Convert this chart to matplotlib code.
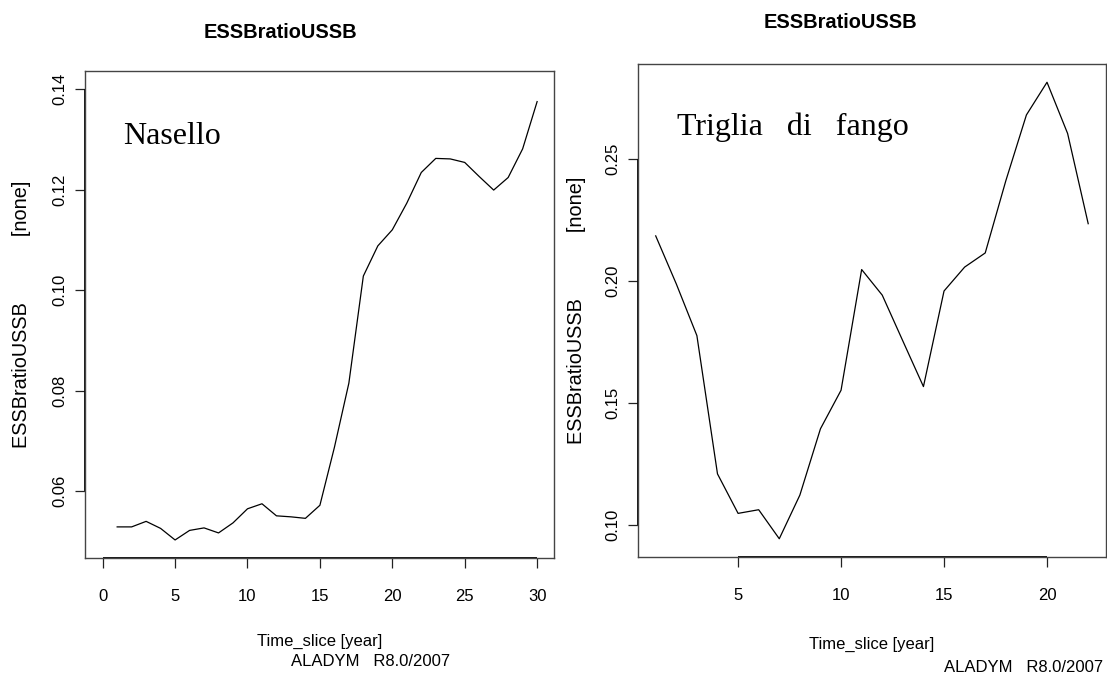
import matplotlib
matplotlib.use("Agg")
import matplotlib.pyplot as plt
import numpy as np

# ---- data ----
nasello_x = list(range(1, 31))
nasello_y = [0.0529, 0.0529, 0.0540, 0.0526, 0.0503, 0.0522, 0.0527, 0.0517, 0.0537, 0.0565,
             0.0575, 0.0551, 0.0549, 0.0546, 0.0572, 0.0687, 0.0815, 0.1028, 0.1088, 0.1120,
             0.1173, 0.1234, 0.1262, 0.1261, 0.1254, 0.1226, 0.1199, 0.1224, 0.1281, 0.1375]
triglia_x = list(range(1, 23))
triglia_y = [0.2184, 0.1987, 0.1775, 0.1208, 0.1046, 0.1061, 0.0942, 0.1121, 0.1393, 0.1551,
             0.2046, 0.1941, 0.1753, 0.1566, 0.1958, 0.2056, 0.2114, 0.2410, 0.2680, 0.2814,
             0.2604, 0.2234]
left_xticks = [0, 5, 10, 15, 20, 25, 30]
left_yticks = [0.06, 0.08, 0.10, 0.12, 0.14]
right_xticks = [5, 10, 15, 20]
right_yticks = [0.10, 0.15, 0.20, 0.25]
title_text = "ESSBratioUSSB"
ylabel_text = "ESSBratioUSSB            [none]"
xlabel_text = "Time_slice [year]"
footer_text = "ALADYM   R8.0/2007"
left_species = "Nasello"
right_species = "Triglia   di   fango"

plt.rcParams['font.family'] = ['Liberation Sans', 'DejaVu Sans']

W, H = 1107, 674
fig = plt.figure(figsize=(W / 100, H / 100), dpi=100)


def px_axes(x0, x1, ytop, ybot):
    return fig.add_axes([x0 / W, 1 - ybot / H, (x1 - x0) / W, (ybot - ytop) / H])


def style(ax, xticks, yticks, yfmt, xlab_y):
    ax.margins(x=0.04, y=0.04)
    ax.set_xticks(xticks)
    ax.set_yticks(yticks)
    ax.set_yticklabels([yfmt.format(v) for v in yticks], rotation=90, va='center')
    for s in ax.spines.values():
        s.set_color('#444444')
        s.set_linewidth(1.0)
    ax.tick_params(axis='both', direction='out', length=7, width=0.9, color='#222222',
                   labelsize=12, labelcolor='black')
    ax.tick_params(axis='x', pad=15)
    ax.tick_params(axis='y', pad=6)
    ax.set_xlabel(xlabel_text, fontsize=12, va='center')
    ax.xaxis.set_label_coords(0.5, xlab_y)
    ax.set_ylabel(ylabel_text, fontsize=14.3, va='center')


# left panel
axL = px_axes(85.3, 554.5, 71, 558)
axL.plot(nasello_x, nasello_y, color='black', lw=0.9)
style(axL, left_xticks, left_yticks, "{:.2f}", -0.172)
axL.yaxis.set_label_coords(-0.137, 0.5)
axL.text(0.08, 0.866, left_species, transform=axL.transAxes, family='Liberation Serif',
         fontsize=23, ha='left', va='center')

# right panel
axR = px_axes(638.4, 1105.5, 64, 557)
axR.plot(triglia_x, triglia_y, color='black', lw=0.9)
style(axR, right_xticks, right_yticks, "{:.2f}", -0.178)
axR.yaxis.set_label_coords(-0.132, 0.5)
axR.text(0.083, 0.872, right_species, transform=axR.transAxes, family='Liberation Serif',
         fontsize=23, ha='left', va='center')

# axis lines (R draws them from first to last tick over the box)
for ax, xt, yt in ((axL, left_xticks, left_yticks), (axR, right_xticks, right_yticks)):
    ax.plot([xt[0], xt[-1]], [0, 0], transform=ax.get_xaxis_transform(), color='black',
            lw=1.3, clip_on=False, solid_capstyle='butt')
    ax.plot([0, 0], [yt[0], yt[-1]], transform=ax.get_yaxis_transform(), color='black',
            lw=1.3, clip_on=False, solid_capstyle='butt')

# titles
fig.text(280 / W, 1 - 33 / H, title_text, fontsize=14.4, fontweight='bold', ha='center', va='center')
fig.text(840 / W, 1 - 22 / H, title_text, fontsize=14.4, fontweight='bold', ha='center', va='center')

# footers
fig.text(450 / W, 1 - 662 / H, footer_text, fontsize=12, ha='right', va='center')
fig.text(1103 / W, 1 - 667 / H, footer_text, fontsize=12, ha='right', va='center')

fig.savefig("out.png", dpi=100)
